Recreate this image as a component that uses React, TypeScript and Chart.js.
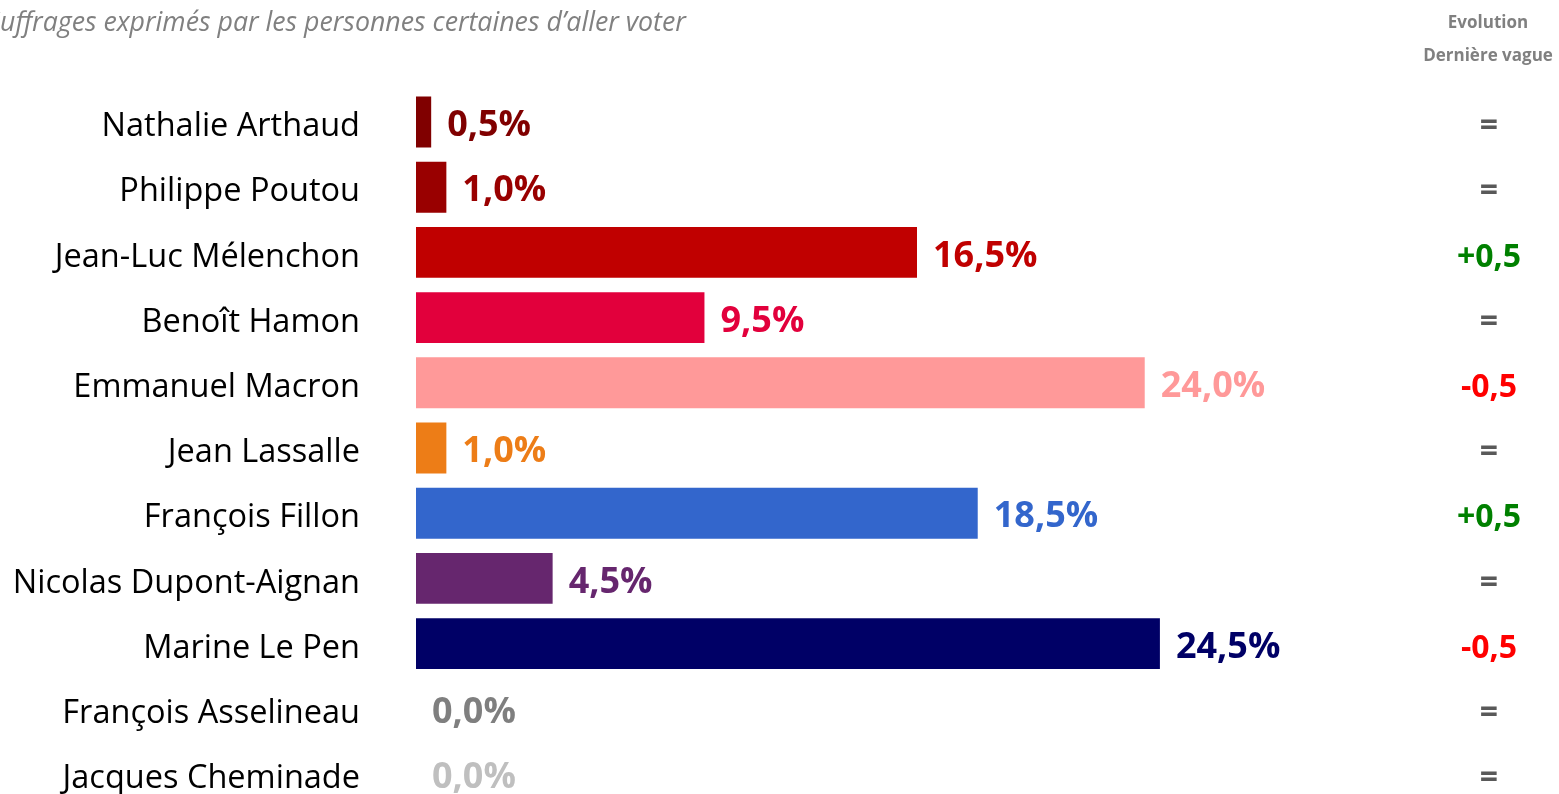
import React, { useEffect, useRef } from "react";
import { Chart, registerables } from "chart.js";

Chart.register(...registerables);

const candidates = [
  "Nathalie Arthaud",
  "Philippe Poutou",
  "Jean-Luc Mélenchon",
  "Benoît Hamon",
  "Emmanuel Macron",
  "Jean Lassalle",
  "François Fillon",
  "Nicolas Dupont-Aignan",
  "Marine Le Pen",
  "François Asselineau",
  "Jacques Cheminade",
];
const scores = [0.5, 1.0, 16.5, 9.5, 24.0, 1.0, 18.5, 4.5, 24.5, 0.0, 0.0];
const barColors = [
  "#800000",
  "#990000",
  "#C00000",
  "#E2003C",
  "#FF9999",
  "#ED7D17",
  "#3366CC",
  "#66266E",
  "#000066",
  "#7F7F7F",
  "#BFBFBF",
];
const evolutions = ["=", "=", "+0,5", "=", "-0,5", "=", "+0,5", "=", "-0,5", "=", "="];
const titleText = "Suffrages exprimés par les personnes certaines d’aller voter";
const headerLines = ["Evolution", "Dernière vague"];

const fmt = (v: number) => v.toFixed(1).replace(".", ",") + "%";
const evoColor = (e: string) => (e.startsWith("+") ? "#008000" : e.startsWith("-") ? "#FF0000" : "#595959");

export default function App() {
  const ref = useRef<HTMLCanvasElement | null>(null);
  useEffect(() => {
    if (!ref.current) return;
    const labelsPlugin = {
      id: "labelsPlugin",
      afterDatasetsDraw(chart: any) {
        const ctx = chart.ctx;
        const meta = chart.getDatasetMeta(0);
        const yScale = chart.scales.y;
        ctx.save();
        ctx.textBaseline = "middle";
        meta.data.forEach((bar: any, i: number) => {
          // category name
          ctx.font = "32.5px 'Open Sans'";
          ctx.fillStyle = "#000000";
          ctx.textAlign = "right";
          ctx.fillText(yScale.getLabelForValue(i), 360, bar.y + 5);
          // value
          ctx.font = "bold 36px 'Open Sans'";
          ctx.fillStyle = barColors[i];
          ctx.textAlign = "left";
          ctx.fillText(fmt(scores[i]), bar.x + 16, bar.y + 4);
          // evolution
          ctx.font = "bold 32px 'Open Sans'";
          ctx.fillStyle = evoColor(evolutions[i]);
          ctx.textAlign = "center";
          ctx.fillText(evolutions[i], 1489, bar.y + 5);
        });
        // title
        let size = 28;
        ctx.font = `italic ${size}px 'Open Sans'`;
        const rest = titleText.slice(1);
        const w = ctx.measureText(rest).width;
        size = (size * 686) / w;
        ctx.font = `italic ${size}px 'Open Sans'`;
        const sw = ctx.measureText(titleText[0]).width;
        ctx.fillStyle = "#808080";
        ctx.textAlign = "left";
        ctx.fillText(titleText, -sw, 23);
        // header
        ctx.font = "bold 17px 'Open Sans'";
        ctx.fillStyle = "#808080";
        ctx.textAlign = "center";
        ctx.fillText(headerLines[0], 1488, 23);
        ctx.fillText(headerLines[1], 1488, 56);
        ctx.restore();
      },
    };
    const chart = new Chart(ref.current, {
      type: "bar",
      data: {
        labels: candidates,
        datasets: [
          {
            data: scores,
            backgroundColor: barColors,
            barPercentage: 0.78,
            categoryPercentage: 1,
          },
        ],
      },
      options: {
        indexAxis: "y",
        animation: false,
        responsive: false,
        devicePixelRatio: 1,
        layout: { padding: { top: 89.4, bottom: 23.4, left: 416, right: 141 } },
        plugins: { legend: { display: false }, tooltip: { enabled: false } },
        scales: {
          x: { display: false, min: 0, max: 33 },
          y: { display: false },
        },
      },
      plugins: [labelsPlugin],
    } as any);
    return () => chart.destroy();
  }, []);
  return (
    <div style={{ position: "fixed", left: 0, top: 0, width: 1559, height: 794, overflow: "hidden", background: "#fff" }}>
      <canvas ref={ref} width={1559} height={830} style={{ display: "block", width: 1559, height: 830 }} />
    </div>
  );
}
